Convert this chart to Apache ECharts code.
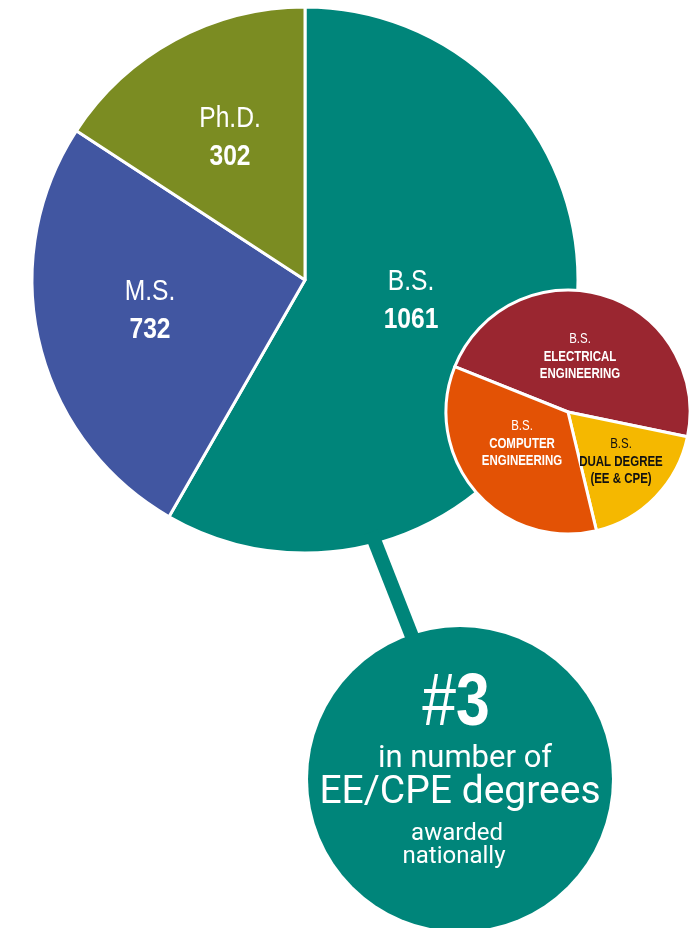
<!DOCTYPE html>
<html>
<head>
<meta charset="utf-8">
<script src="https://cdn.jsdelivr.net/npm/echarts@6/dist/echarts.min.js"></script>
<style>
  html, body { margin: 0; padding: 0; background: #fff; }
  #main { width: 689px; height: 928px; }
</style>
</head>
<body>
<div id="main"></div>
<script>
// degrees awarded (label counts) and slice shares as drawn (%)
var degreeNames = ['B.S.', 'M.S.', 'Ph.D.'];
var degreeCounts = [1061, 732, 302];
var degreeShares = [58.3, 25.9, 15.8];

// B.S. breakdown, clockwise from the upper left
var bsNames = ['ELECTRICAL\nENGINEERING', 'DUAL DEGREE\n(EE & CPE)', 'COMPUTER\nENGINEERING'];
var bsShares = [47.2, 18.0, 34.8];

var rankText = ['in number of', 'EE/CPE degrees', 'awarded', 'nationally'];

var font = '"Liberation Sans", Arial, sans-serif';
var font2 = 'Roboto, "Liberation Sans", sans-serif';
var narrow = 0.82; // Liberation Sans squeezed to look like a condensed face

var bigColors = ['#00857a', '#4156a1', '#7b8c22'];
var smallColors = ['#9a2630', '#f5b800', '#e35205'];

// label anchors (text centres)
var bigLabelPos = [[411, 301], [150, 311], [230, 138]];
var smallLabelPos = [[580, 357], [621, 462], [522, 444]];

var bigData = degreeNames.map(function (n, i) {
  return { name: n, value: degreeShares[i], itemStyle: { color: bigColors[i] } };
});
var smallData = bsNames.map(function (n, i) {
  return { name: n, value: bsShares[i], itemStyle: { color: smallColors[i] } };
});

var graphics = [{
  type: 'line',
  z: 3,
  shape: { x1: 371, y1: 532, x2: 424, y2: 667 },
  style: { stroke: '#00857a', lineWidth: 14 }
}, {
  type: 'circle',
  z: 3,
  shape: { cx: 460, cy: 779, r: 152 },
  style: { fill: '#00857a' }
}];

degreeNames.forEach(function (n, i) {
  graphics.push({
    type: 'text', z: 6,
    x: bigLabelPos[i][0], y: bigLabelPos[i][1], scaleX: narrow,
    style: {
      text: '{t|' + n + '}\n{n|' + degreeCounts[i] + '}',
      align: 'center', verticalAlign: 'middle',
      rich: {
        t: { fontFamily: font, fontSize: 30, fill: '#fff', lineHeight: 38 },
        n: { fontFamily: font, fontSize: 30, fontWeight: 'bold', fill: '#fff', lineHeight: 38 }
      }
    }
  });
});

bsNames.forEach(function (n, i) {
  var lines = n.split('\n');
  var c = i == 1 ? '#111' : '#fff';
  graphics.push({
    type: 'text', z: 7,
    x: smallLabelPos[i][0], y: smallLabelPos[i][1], scaleX: narrow,
    style: {
      text: '{t|B.S.}\n{n|' + lines[0] + '}\n{n|' + lines[1] + '}',
      align: 'center', verticalAlign: 'middle',
      rich: {
        t: { fontFamily: font, fontSize: 14, fill: c, lineHeight: 17.5 },
        n: { fontFamily: font, fontSize: 14, fontWeight: 'bold', fill: c, lineHeight: 17.5 }
      }
    }
  });
});

graphics.push({
  type: 'text', z: 5,
  x: 456, y: 705, scaleX: narrow,
  style: {
    text: '{h|#}{d|3}',
    align: 'center', verticalAlign: 'middle',
    rich: {
      h: { fontFamily: font, fontSize: 74, fill: '#fff' },
      d: { fontFamily: font, fontSize: 74, fontWeight: 'bold', fill: '#fff' }
    }
  }
}, {
  type: 'text', z: 5, x: 465, y: 759,
  style: { text: rankText[0], font: '31px ' + font2, fill: '#fff', align: 'center', verticalAlign: 'middle' }
}, {
  type: 'text', z: 5, x: 460, y: 793,
  style: { text: rankText[1], font: '39px ' + font2, fill: '#fff', align: 'center', verticalAlign: 'middle' }
}, {
  type: 'text', z: 5, x: 457, y: 834,
  style: { text: rankText[2], font: '24px ' + font2, fill: '#fff', align: 'center', verticalAlign: 'middle' }
}, {
  type: 'text', z: 5, x: 454, y: 857,
  style: { text: rankText[3], font: '24px ' + font2, fill: '#fff', align: 'center', verticalAlign: 'middle' }
});

var myChart = echarts.init(document.getElementById('main'));
var option = {
  backgroundColor: '#fff',
  animation: false,
  series: [{
    type: 'pie',
    center: [305, 280],
    radius: 273,
    startAngle: 90,
    clockwise: true,
    z: 2,
    itemStyle: { borderColor: '#fff', borderWidth: 3 },
    label: { show: false },
    emphasis: { disabled: true },
    data: bigData
  }, {
    type: 'pie',
    center: [568, 412],
    radius: 122,
    startAngle: 158.2,
    clockwise: true,
    z: 4,
    itemStyle: { borderColor: '#fff', borderWidth: 3 },
    label: { show: false },
    emphasis: { disabled: true },
    data: smallData
  }],
  graphic: graphics
};
myChart.setOption(option);
</script>
</body>
</html>
